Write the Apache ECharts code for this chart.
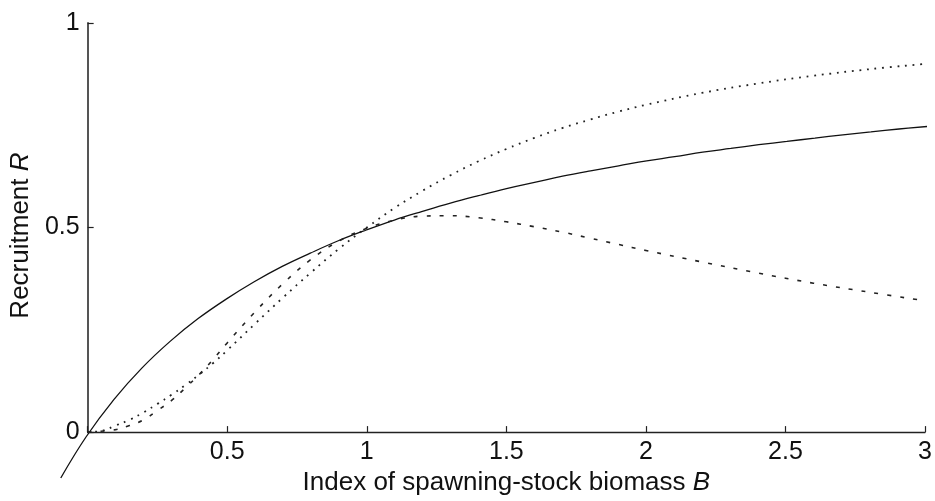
<!DOCTYPE html>
<html>
<head>
<meta charset="utf-8">
<script src="https://cdn.jsdelivr.net/npm/echarts@6/dist/echarts.min.js"></script>
<style>
  html, body { margin: 0; padding: 0; background: #fff; }
  #chart { width: 935px; height: 501px; }
</style>
</head>
<body>
<div id="chart"></div>
<script>
// stock-recruitment curves, values
const solidB = [-0.09, 0, 0.1, 0.2, 0.3, 0.4, 0.5, 0.6, 0.7, 0.8, 0.9, 1.0, 1.1, 1.2, 1.3, 1.4, 1.5,
  1.6, 1.7, 1.8, 1.9, 2.0, 2.1, 2.2, 2.3, 2.4, 2.5, 2.6, 2.7, 2.8, 2.9, 3.0];
const solidR = [-0.099, 0, 0.091, 0.167, 0.231, 0.286, 0.333, 0.375, 0.412, 0.444, 0.474, 0.5, 0.524,
  0.545, 0.565, 0.583, 0.6, 0.615, 0.63, 0.643, 0.655, 0.667, 0.677, 0.688, 0.697, 0.706, 0.714,
  0.722, 0.73, 0.737, 0.744, 0.75];

const dottedB = [0, 0.05, 0.1, 0.15, 0.2, 0.25, 0.3, 0.35, 0.4, 0.45, 0.5, 0.6, 0.7, 0.8, 0.9, 1.0,
  1.1, 1.2, 1.3, 1.4, 1.5, 1.6, 1.7, 1.8, 1.9, 2.0, 2.2, 2.4, 2.6, 2.8, 3.0];
const dottedR = [0, 0.003, 0.016, 0.03, 0.048, 0.069, 0.091, 0.115, 0.141, 0.169, 0.2, 0.265, 0.329,
  0.39, 0.448, 0.5, 0.548, 0.59, 0.628, 0.662, 0.692, 0.719, 0.743, 0.764, 0.783, 0.8, 0.829, 0.852,
  0.871, 0.887, 0.9];

const dashedB = [0, 0.1, 0.15, 0.2, 0.25, 0.3, 0.35, 0.4, 0.45, 0.5, 0.6, 0.7, 0.8, 0.9, 1.0, 1.1,
  1.2, 1.3, 1.4, 1.5, 1.6, 1.7, 1.8, 1.9, 2.0, 2.2, 2.4, 2.6, 2.8, 3.0];
const dashedR = [0, 0.006, 0.016, 0.03, 0.053, 0.077, 0.108, 0.141, 0.178, 0.218, 0.294, 0.363,
  0.422, 0.467, 0.498, 0.518, 0.528, 0.529, 0.524, 0.514, 0.502, 0.489, 0.474, 0.459, 0.444, 0.416,
  0.389, 0.364, 0.342, 0.321];

const xTicks = [0.5, 1, 1.5, 2, 2.5, 3];

function pairs(xs, ys) {
  return xs.map((x, i) => [x, ys[i]]);
}

const chart = echarts.init(document.getElementById("chart"));
const font = "Liberation Sans, Arial, sans-serif";

// plot box (px) and a wider, hidden grid with the same scale so the
// solid curve can run past the origin
const box = { left: 86, right: 8, top: 23, bottom: 64 };
const pxPerX = (935 - box.left - box.right) / 3;
const pxPerY = 501 - box.top - box.bottom;
const xLow = -0.1;
const yLow = -0.12;

const lineBase = {
  type: "line",
  showSymbol: false,
  smooth: 0.4,
  clip: false,
  silent: true,
};

chart.setOption({
  animation: false,
  backgroundColor: "#fff",
  grid: [
    box,
    {
      left: box.left + xLow * pxPerX,
      right: box.right,
      top: box.top,
      bottom: box.bottom + yLow * pxPerY,
    },
  ],
  xAxis: [
    {
      type: "value",
      min: 0,
      max: 3,
      interval: 0.5,
      name: "Index of spawning-stock biomass {i|B}",
      nameLocation: "middle",
      nameGap: 31,
      nameTextStyle: {
        color: "#111",
        fontFamily: font,
        fontSize: 26,
        verticalAlign: "top",
        rich: { i: { fontStyle: "italic", fontSize: 26, fontFamily: font, color: "#111" } },
      },
      axisLine: { show: true, onZero: false, lineStyle: { color: "#222", width: 1.3 } },
      axisTick: { show: true, inside: true, length: 6, lineStyle: { color: "#222", width: 1.2 } },
      axisLabel: {
        color: "#111",
        fontFamily: font,
        fontSize: 25,
        margin: 8,
        formatter: (v) => (xTicks.includes(v) ? String(v) : ""),
      },
      splitLine: { show: false },
    },
    { type: "value", gridIndex: 1, min: xLow, max: 3, show: false },
  ],
  yAxis: [
    {
      type: "value",
      min: 0,
      max: 1,
      interval: 0.5,
      name: "Recruitment {i|R}",
      nameLocation: "middle",
      nameGap: 46,
      nameTextStyle: {
        color: "#111",
        fontFamily: font,
        fontSize: 26,
        padding: [0, 16, 0, 0],
        rich: { i: { fontStyle: "italic", fontSize: 26, fontFamily: font, color: "#111" } },
      },
      axisLine: { show: true, onZero: false, lineStyle: { color: "#555", width: 2 } },
      axisTick: { show: true, inside: true, length: 6, lineStyle: { color: "#222", width: 1.2 } },
      axisLabel: { color: "#111", fontFamily: font, fontSize: 25, margin: 8 },
      splitLine: { show: false },
    },
    { type: "value", gridIndex: 1, min: yLow, max: 1, show: false },
  ],
  series: [
    {
      ...lineBase,
      name: "solid",
      xAxisIndex: 1,
      yAxisIndex: 1,
      data: pairs(solidB, solidR),
      lineStyle: { color: "#111", width: 1.3, type: "solid" },
    },
    {
      ...lineBase,
      name: "dotted",
      data: pairs(dottedB, dottedR),
      lineStyle: { color: "#222", width: 1.8, type: [1.8, 5.8], cap: "butt" },
    },
    {
      ...lineBase,
      name: "dashed",
      data: pairs(dashedB, dashedR),
      lineStyle: { color: "#222", width: 1.6, type: [4, 9], cap: "butt" },
    },
  ],
});

window.addEventListener("resize", () => {
  chart.resize();
});
</script>
</body>
</html>
